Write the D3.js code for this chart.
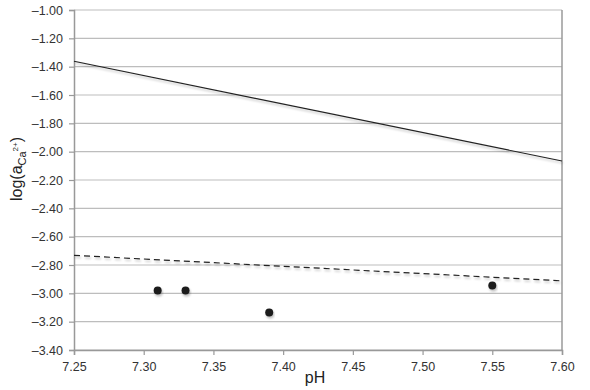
<!DOCTYPE html>
<html>
<head>
<meta charset="utf-8">
<script src="https://cdn.jsdelivr.net/npm/d3@7"></script>
<style>
body { margin: 0; background: #fff; }
text { font-family: "Liberation Sans", Arial, Helvetica, sans-serif; }
</style>
</head>
<body>
<svg id="chart" width="590" height="390"></svg>
<script>
// data
var xTicks = [7.25, 7.30, 7.35, 7.40, 7.45, 7.50, 7.55, 7.60];
var yTicks = [-1.00, -1.20, -1.40, -1.60, -1.80, -2.00, -2.20, -2.40, -2.60, -2.80, -3.00, -3.20, -3.40];
var solidLine = [[7.25, -1.362], [7.60, -2.066]];
var dashedLine = [[7.25, -2.732], [7.60, -2.912]];
var pointsPH = [7.31, 7.33, 7.39, 7.55];
var pointsLogA = [-2.98, -2.98, -3.135, -2.945];

var margin = {left: 74, top: 10, right: 28, bottom: 40};
var W = 590, H = 390;

var svg = d3.select("#chart");

var x = d3.scaleLinear().domain([7.25, 7.60]).range([margin.left, W - margin.right]);
var y = d3.scaleLinear().domain([-3.40, -1.00]).range([H - margin.bottom, margin.top]);

var defs = svg.append("defs");
var f = defs.append("filter").attr("id", "shadow")
    .attr("x", "-20%").attr("y", "-20%").attr("width", "140%").attr("height", "180%");
f.append("feDropShadow").attr("dx", 1).attr("dy", 2).attr("stdDeviation", 1.2)
    .attr("flood-color", "#000").attr("flood-opacity", 0.25);

//gridlines
svg.append("g").selectAll("line").data(yTicks).enter().append("line")
    .attr("x1", x(7.25)).attr("x2", x(7.60))
    .attr("y1", function(d){return y(d);}).attr("y2", function(d){return y(d);})
    .attr("stroke", "#bdbdbd").attr("stroke-width", 1.2);

//right border
svg.append("line")
    .attr("x1", x(7.60)).attr("x2", x(7.60))
    .attr("y1", y(-1.00)).attr("y2", y(-3.40))
    .attr("stroke", "#9a9a9a").attr("stroke-width", 1.5);

// en dash as the minus sign, like the original
var fmt = function(d){ return d3.format(".2f")(d).replace("−", "–"); };

var yAxis = svg.append("g")
    .attr("transform", "translate(" + margin.left + ",0)")
    .call(d3.axisLeft(y).tickValues(yTicks).tickFormat(fmt).tickSize(5).tickPadding(6));

var xAxis = svg.append("g")
    .attr("transform", "translate(0," + (H - margin.bottom) + ")")
    .call(d3.axisBottom(x).tickValues(xTicks).tickFormat(fmt).tickSize(5).tickPadding(7));

[yAxis, xAxis].forEach(function(a){
    a.select(".domain").attr("stroke", "#999").attr("stroke-width", 1.5);
    a.selectAll(".tick line").attr("stroke", "#999").attr("stroke-width", 1.2);
    a.selectAll(".tick text").attr("fill", "#333").attr("font-size", "12.5px")
        .attr("font-family", "'Liberation Sans', Arial, sans-serif");
});

var line = d3.line().x(function(d){return x(d[0]);}).y(function(d){return y(d[1]);});

svg.append("path").datum(solidLine)
    .attr("d", line).attr("fill", "none")
    .attr("stroke", "#222").attr("stroke-width", 1.2)
    .attr("filter", "url(#shadow)");

svg.append("path").datum(dashedLine)
    .attr("d", line).attr("fill", "none")
    .attr("stroke", "#222").attr("stroke-width", 1.2)
    .attr("stroke-dasharray", "6,4")
    .attr("filter", "url(#shadow)");

svg.append("g").selectAll("circle").data(pointsPH).enter().append("circle")
    .attr("cx", function(d){return x(d);})
    .attr("cy", function(d, i){return y(pointsLogA[i]);})
    .attr("r", 4)
    .attr("fill", "#1a1a1a")
    .attr("filter", "url(#shadow)");

//axis titles
svg.append("text")
    .attr("x", (x(7.25) + x(7.60)) / 2 - 3).attr("y", 383)
    .attr("text-anchor", "middle").attr("font-size", "16px").attr("fill", "#222")
    .text("pH");

var yt = svg.append("text")
    .attr("transform", "translate(22,169) rotate(-90)")
    .attr("text-anchor", "middle").attr("font-size", "16px").attr("fill", "#222");
yt.append("tspan").text("log(a");
yt.append("tspan").attr("font-size", "11px").attr("dy", 4).text("Ca");
yt.append("tspan").attr("font-size", "8px").attr("dy", -8).text("2+");
yt.append("tspan").attr("dy", 4).text(")");
</script>
</body>
</html>
